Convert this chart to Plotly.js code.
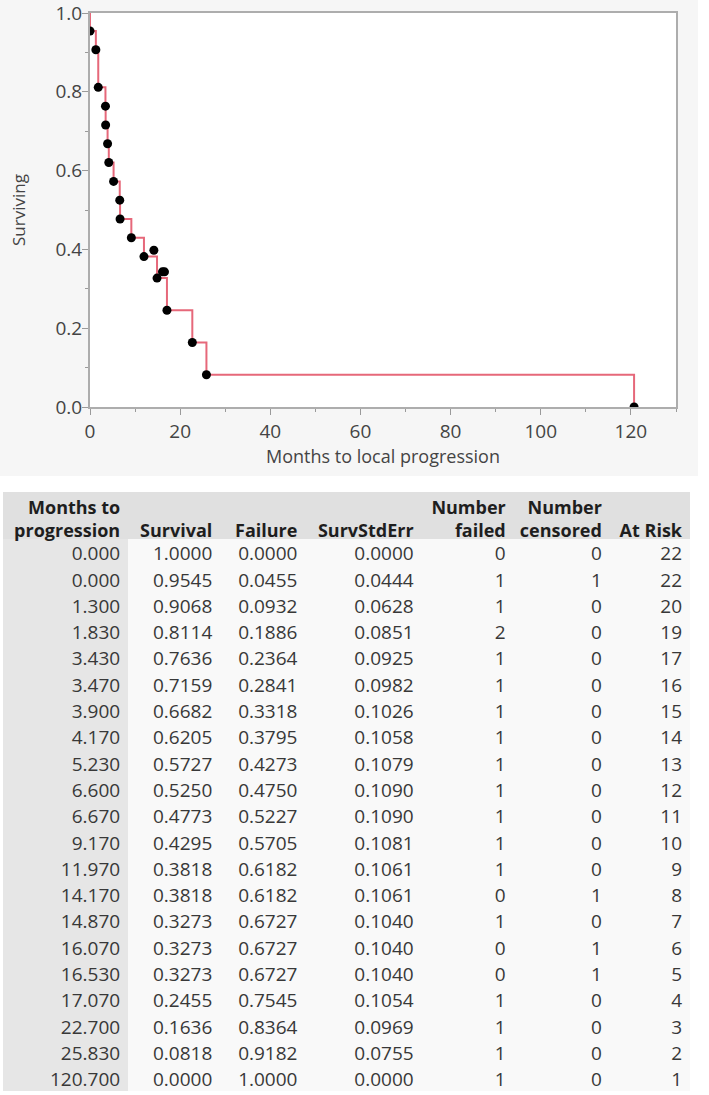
<!DOCTYPE html>
<html>
<head>
<meta charset="utf-8">
<script src="https://cdn.plot.ly/plotly-3.0.1.min.js"></script>
<style>
  html, body { margin: 0; padding: 0; background: #fff; }
  #chart { width: 709px; height: 1095px; }
</style>
</head>
<body>
<div id="chart"></div>
<script>
// Kaplan-Meier: meses hasta progresión local (curva + tabla)

// tabla de supervivencia
const months = [0, 0, 1.3, 1.83, 3.43, 3.47, 3.9, 4.17, 5.23, 6.6, 6.67, 9.17, 11.97, 14.17, 14.87, 16.07, 16.53, 17.07, 22.7, 25.83, 120.7];
const survival = [1.0, 0.9545, 0.9068, 0.8114, 0.7636, 0.7159, 0.6682, 0.6205, 0.5727, 0.525, 0.4773, 0.4295, 0.3818, 0.3818, 0.3273, 0.3273, 0.3273, 0.2455, 0.1636, 0.0818, 0.0];
const failure = [0.0, 0.0455, 0.0932, 0.1886, 0.2364, 0.2841, 0.3318, 0.3795, 0.4273, 0.475, 0.5227, 0.5705, 0.6182, 0.6182, 0.6727, 0.6727, 0.6727, 0.7545, 0.8364, 0.9182, 1.0];
const survStdErr = [0.0, 0.0444, 0.0628, 0.0851, 0.0925, 0.0982, 0.1026, 0.1058, 0.1079, 0.109, 0.109, 0.1081, 0.1061, 0.1061, 0.104, 0.104, 0.104, 0.1054, 0.0969, 0.0755, 0.0];
const nFailed = [0, 1, 1, 2, 1, 1, 1, 1, 1, 1, 1, 1, 1, 0, 1, 0, 0, 1, 1, 1, 1];
const nCensored = [0, 1, 0, 0, 0, 0, 0, 0, 0, 0, 0, 0, 0, 1, 0, 1, 1, 0, 0, 0, 0];
const atRisk = [22, 22, 20, 19, 17, 16, 15, 14, 13, 12, 11, 10, 9, 8, 7, 6, 5, 4, 3, 2, 1];

// puntos del gráfico (fallos al pie del escalón, censuras por encima)
const pointX = [0, 1.3, 1.83, 3.43, 3.47, 3.9, 4.17, 5.23, 6.6, 6.67, 9.17, 11.97, 14.17, 14.87, 16.07, 16.53, 17.07, 22.7, 25.83, 120.7];
const pointY = [0.9545, 0.9068, 0.8114, 0.7636, 0.7159, 0.6682, 0.6205, 0.5727, 0.525, 0.4773, 0.4295, 0.3818, 0.398, 0.3273, 0.343, 0.343, 0.2455, 0.1636, 0.0818, 0.0];

// encabezados (dos filas)
const headerTop = ['Months to', '', '', '', 'Number', 'Number', ''];
const headerBottom = ['progression', 'Survival', 'Failure', 'SurvStdErr', 'failed', 'censored', 'At Risk'];

const W = 709, H = 1095;
const px = v => v / W;
const py = v => 1 - v / H;

// espacio duro: así la tabla no parte el texto ni agranda la fila
const nb = s => s.replace(/ /g, '\u00a0');

const bodyFill = ['#e6e6e6', '#f9f9f9', '#f9f9f9', '#f9f9f9', '#f9f9f9', '#f9f9f9', '#f9f9f9'];

const traces = [
  {
    type: 'scatter',
    x: months,
    y: survival,
    mode: 'lines',
    line: { shape: 'hv', color: '#e6687a', width: 2 },
    hoverinfo: 'x+y',
    showlegend: false
  },
  {
    type: 'scatter',
    x: pointX,
    y: pointY,
    mode: 'markers',
    marker: { color: '#000', size: 9 },
    hoverinfo: 'x+y',
    showlegend: false
  },
  {
    type: 'table',
    domain: { x: [px(3), px(690)], y: [0, py(492)] },
    columnwidth: [125, 92, 85, 116, 92, 96, 80],
    header: {
      values: headerTop.map((t, i) => [nb(t), nb(headerBottom[i])]),
      align: 'right',
      height: 23,
      fill: { color: '#e0e0e0' },
      line: { color: '#e0e0e0', width: 1 },
      font: { family: 'Open Sans', size: 18, color: '#1e1e1e', weight: 'bold' }
    },
    cells: {
      values: [months, survival, failure, survStdErr, nFailed, nCensored, atRisk],
      format: ['.3f', '.4f', '.4f', '.4f', 'd', 'd', 'd'],
      align: 'right',
      height: 26.3,
      fill: { color: bodyFill },
      line: { color: bodyFill, width: 1 },
      font: { family: 'Open Sans', size: 19, color: '#383838' }
    }
  }
];

const axisCommon = {
  showline: true,
  linecolor: '#adadad',
  linewidth: 2,
  mirror: true,
  ticks: 'outside',
  ticklen: 6,
  tickwidth: 1,
  tickcolor: '#9a9a9a',
  showgrid: false,
  zeroline: false,
  ticklabeloverflow: 'allow',
  tickfont: { size: 19, color: '#444' },
  fixedrange: true
};

const layout = {
  width: W,
  height: H,
  margin: { l: 0, r: 0, t: 0, b: 0 },
  paper_bgcolor: '#fff',
  plot_bgcolor: 'rgba(0,0,0,0)',
  font: { family: 'Open Sans', color: '#444' },
  xaxis: Object.assign({}, axisCommon, {
    domain: [px(90), px(676)],
    range: [0, 130],
    tick0: 0,
    dtick: 20,
    minor: { dtick: 10, ticks: 'outside', ticklen: 3, tickcolor: '#9a9a9a' },
    title: { text: 'Months to local progression', font: { size: 18, color: '#444' }, standoff: 4 }
  }),
  yaxis: Object.assign({}, axisCommon, {
    domain: [py(407), py(13)],
    range: [0, 1.0001],
    tick0: 0,
    dtick: 0.2,
    tickformat: '.1f',
    ticklabelstandoff: -4,
    minor: { dtick: 0.1, ticks: 'outside', ticklen: 3, tickcolor: '#9a9a9a' },
    title: { text: 'Surviving', font: { size: 17, color: '#444' }, standoff: 26 }
  }),
  shapes: [
    // panel gris del gráfico
    { type: 'rect', xref: 'paper', yref: 'paper', x0: 0, x1: px(698), y0: py(476), y1: 1,
      fillcolor: '#f6f6f6', line: { width: 0 }, layer: 'below' },
    // fondo blanco del área de trazado
    { type: 'rect', xref: 'x domain', yref: 'y domain', x0: 0, x1: 1, y0: 0, y1: 1,
      fillcolor: '#fff', line: { width: 0 }, layer: 'below' }
  ]
};

Plotly.newPlot('chart', traces, layout, { displayModeBar: false, staticPlot: true });
</script>
</body>
</html>
